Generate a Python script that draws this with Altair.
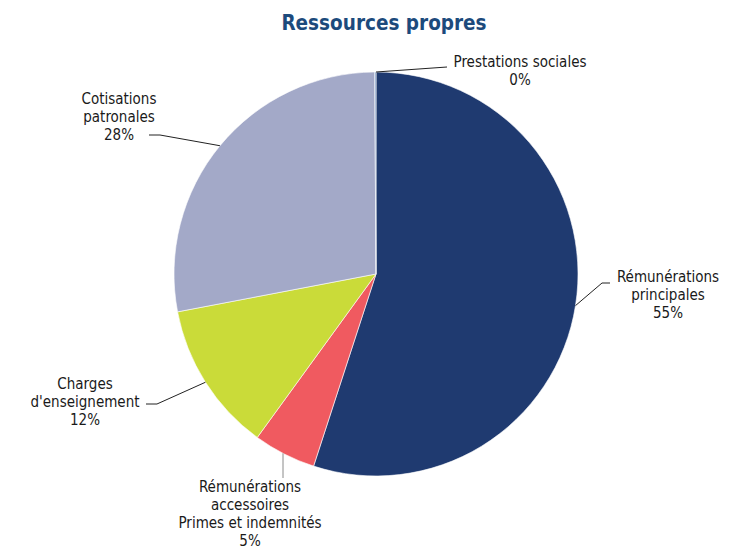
import math
import altair as alt
import pandas as pd

# ---- data ----
categories = ["Rémunérations principales", "Rémunérations accessoires Primes et indemnités",
              "Charges d'enseignement", "Cotisations patronales", "Prestations sociales"]
label_text = ["Rémunérations\nprincipales\n55%",
              "Rémunérations\naccessoires\nPrimes et indemnités\n5%",
              "Charges\nd'enseignement\n12%",
              "Cotisations\npatronales\n28%",
              "Prestations sociales\n0%"]
shares = [55.0, 5.0, 12.0, 27.9, 0.1]
colors = ["#1F3A70", "#F05A60", "#CADB39", "#A3A9C8", "#6E8FC0"]

# ---- layout (page pixel coordinates) ----
W, H = 716, 542
CX, CY, R = 376, 274, 202
# label anchor (x, top of first line)
label_pos = [(668, 270, "center"), (250, 480, "center"), (85, 377, "center"),
             (119, 92, "center"), (520, 55, "center")]
# leader: elbow point, end point
leaders = [((602, 283), (610, 283)),
           (None, (283, 478)),
           ((157, 404), (146, 404)),
           ((160, 135), (149, 135)),
           (None, (447, 67))]

total = sum(shares)
df = pd.DataFrame({"cat": categories, "share": shares, "order": list(range(len(shares)))})

# leader segments computed from slice mid angles
seg_rows = []
cum = 0.0
for i, s in enumerate(shares):
    mid = (cum + s / 2) / total * 2 * math.pi
    cum += s
    if i == len(shares) - 1:
        mid = 2 * math.pi
    sx, sy = CX + R * math.sin(mid), CY - R * math.cos(mid)
    elbow, end = leaders[i]
    if i == 1:
        sx = end[0]
        sy = CY + math.sqrt(R * R - (sx - CX) ** 2)
    pts = [(sx, sy)] + ([elbow] if elbow else []) + [end]
    for a, b in zip(pts[:-1], pts[1:]):
        seg_rows.append({"x": a[0], "y": a[1], "x2": b[0], "y2": b[1],
                         "c": "#8a8a8a" if i == 1 else "#222222"})
seg = pd.DataFrame(seg_rows)

lab = pd.DataFrame({"t": label_text,
                    "x": [p[0] for p in label_pos],
                    "y": [p[1] for p in label_pos]})

xs = alt.Scale(domain=[8, 8 + W], range=[0, W])
ys = alt.Scale(domain=[8, 8 + H], range=[0, H])
FONT = "DejaVu Sans Condensed"

pie = alt.Chart(df).mark_arc(outerRadius=R, stroke="white", strokeWidth=0.6).encode(
    theta=alt.Theta("share:Q", stack=True),
    order=alt.Order("order:Q"),
    color=alt.Color("cat:N", scale=alt.Scale(domain=categories, range=colors), legend=None),
    x=alt.value(CX - 8), y=alt.value(CY - 8),
)

lines = alt.Chart(seg).mark_rule(strokeWidth=1).encode(
    x=alt.X("x:Q", scale=xs, axis=None), y=alt.Y("y:Q", scale=ys, axis=None),
    x2="x2:Q", y2="y2:Q", color=alt.Color("c:N", scale=None),
)

labels = alt.Chart(lab).mark_text(font=FONT, fontSize=15, lineBreak="\n", lineHeight=18,
                                  baseline="top", align="center", color="#1a1a1a").encode(
    x=alt.X("x:Q", scale=xs, axis=None), y=alt.Y("y:Q", scale=ys, axis=None), text="t:N",
)

title = alt.Chart(pd.DataFrame({"t": ["Ressources propres"], "x": [384], "y": [24]})).mark_text(
    font=FONT, fontSize=20.5, fontWeight="bold", color="#1C4A7C", baseline="middle", align="center"
).encode(x=alt.X("x:Q", scale=xs, axis=None), y=alt.Y("y:Q", scale=ys, axis=None), text="t:N")

chart = alt.layer(pie, lines, labels, title).properties(
    width=W, height=H, padding=0, autosize=alt.AutoSizeParams(type="none")
).configure_view(stroke=None)

chart.save("out.html", embed_options={"renderer": "svg", "actions": False})
